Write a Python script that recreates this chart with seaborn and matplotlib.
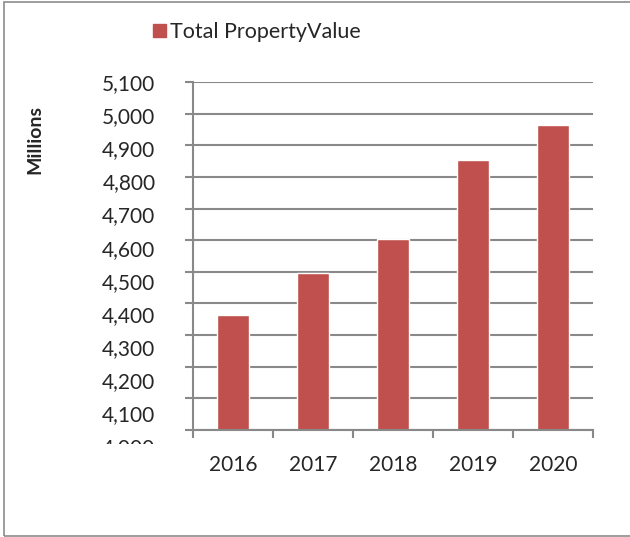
import matplotlib
matplotlib.use("Agg")
import matplotlib.pyplot as plt
import matplotlib.patches as mpatches
from matplotlib.transforms import Bbox, TransformedBbox, ScaledTranslation
import seaborn as sns
import pandas as pd
import numpy as np

years = ["2016", "2017", "2018", "2019", "2020"]
values = [4365, 4497, 4604, 4854, 4965]
series_name = "Total PropertyValue"
yticks = list(range(4000, 5101, 100))

sns.set_style("white")
plt.rcParams['font.family'] = ['Lato', 'DejaVu Sans']

df = pd.DataFrame({"year": years, "value": values})

fig = plt.figure(figsize=(6.3, 5.37), dpi=100)
ax = fig.add_axes([0.3063, 0.1993, 0.635, 0.648])

sns.barplot(data=df, x="year", y="value", color="#C0504D", width=0.4,
            saturation=1, ax=ax)

grid_c = "#898989"
ax.set_ylim(4000, 5100)
ax.set_xlim(-0.5, len(years) - 0.5)
ax.set_yticks(yticks)
ax.set_yticklabels([f"{v:,}" for v in yticks])
ax.yaxis.grid(True, color=grid_c, linewidth=1.5)
ax.set_axisbelow(True)
ax.set_xlabel("")
ax.set_ylabel("")

for side in ["top", "right"]:
    ax.spines[side].set_visible(False)
for side in ["left", "bottom"]:
    ax.spines[side].set_color(grid_c)
    ax.spines[side].set_linewidth(1.5)

ax.tick_params(axis="y", direction="out", length=6, width=1.5, color=grid_c,
               labelsize=15, pad=21, left=True)
ax.tick_params(axis="x", which="major", length=0, labelsize=15, pad=18)
ax.set_xticks(np.arange(-0.5, len(years), 1.0), minor=True)
ax.tick_params(axis="x", which="minor", direction="out", length=6, width=1.5,
               color=grid_c, bottom=True)

# labels drift a little below their gridlines and the lowest one is cut off
clip = TransformedBbox(Bbox([[0, 0.1732], [1, 1]]), fig.transFigure)
for v, lab in zip(yticks, ax.get_yticklabels()):
    shift = (5100 - v) / 1000 * 0.15
    lab.set_transform(lab.get_transform() + ScaledTranslation(0, -shift, fig.dpi_scale_trans))
    lab.set_clip_box(clip)
    lab.set_clip_on(True)

handles = [mpatches.Patch(color="#C0504D", label=series_name)]
fig.legend(handles=handles, loc="center left", bbox_to_anchor=(0.243, 0.94),
           frameon=False, fontsize=15.5, handlelength=0.6, handleheight=0.6,
           handletextpad=0.2, borderaxespad=0, borderpad=0)

fig.text(0.056, 0.741, "Millions", rotation=90, fontsize=14, fontweight="bold",
         ha="center", va="center")

fig.patches.append(mpatches.Rectangle((4 / 630, 1 / 537), 1.0, 1 - 3 / 537,
                                      transform=fig.transFigure, fill=False,
                                      edgecolor="#8C8C8C", linewidth=1.2))

fig.savefig("out.png", dpi=100)
